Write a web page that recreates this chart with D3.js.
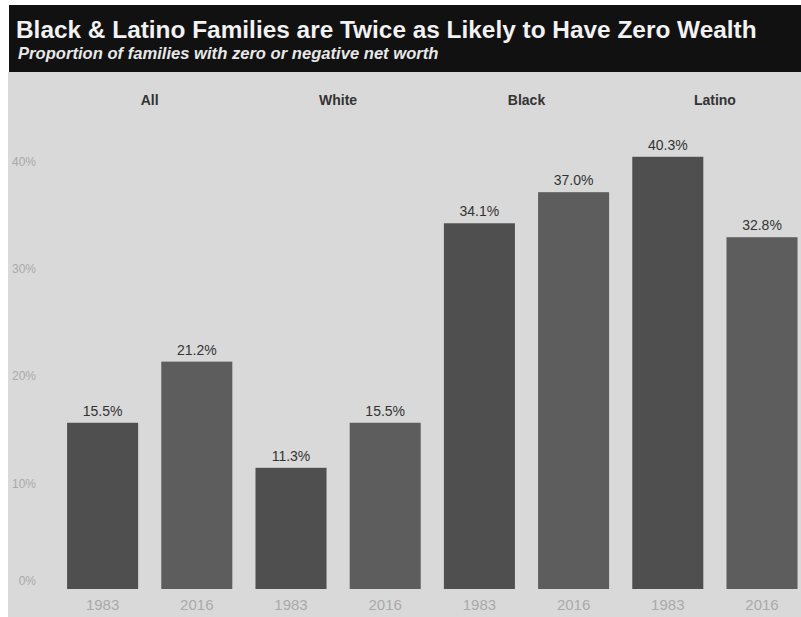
<!DOCTYPE html>
<html>
<head>
<meta charset="utf-8">
<script src="https://cdn.jsdelivr.net/npm/d3@7"></script>
<style>
  html, body { margin: 0; padding: 0; background: #ffffff; }
  svg { display: block; font-family: "Liberation Sans", Arial, sans-serif; }
</style>
</head>
<body>
<svg id="chart" width="801" height="617"></svg>
<script>
// Share of families with zero or negative net worth, by group and year
const groups = ["All", "White", "Black", "Latino"];
const years = ["1983", "2016"];
const values1983 = [15.5, 11.3, 34.1, 40.3];
const values2016 = [21.2, 15.5, 37.0, 32.8];
const yTicks = [0, 10, 20, 30, 40];

const titleText = "Black & Latino Families are Twice as Likely to Have Zero Wealth";
const subtitleText = "Proportion of families with zero or negative net worth";

const rows = [];
groups.forEach((g, i) => {
  rows.push({ group: g, year: years[0], value: values1983[i], key: g + "-" + years[0] });
  rows.push({ group: g, year: years[1], value: values2016[i], key: g + "-" + years[1] });
});

const svg = d3.select("#chart");
const W = 801, H = 617;

// chart pane
svg.append("rect").attr("x", 8).attr("y", 72).attr("width", W - 8).attr("height", H - 72)
  .attr("fill", "#d9d9d9");

// title banner
svg.append("rect").attr("x", 9).attr("y", 5).attr("width", W - 9).attr("height", 67)
  .attr("fill", "#111111");
svg.append("text").attr("x", 16).attr("y", 38)
  .attr("fill", "#f2f2f2").attr("font-size", 24.4).attr("font-weight", "bold")
  .text(titleText);
svg.append("text").attr("x", 18).attr("y", 59)
  .attr("fill", "#e8e8e8").attr("font-size", 16.6).attr("font-weight", "bold")
  .attr("font-style", "italic")
  .text(subtitleText);

const x = d3.scaleBand()
  .domain(rows.map(d => d.key))
  .range([55.5, 809.1])
  .paddingInner(0.246)
  .paddingOuter(0.123);

const y = d3.scaleLinear().domain([0, 40]).range([589, 160]);

const step = x.step();

// group headers centred over each pair of bars
svg.append("g").selectAll("text").data(groups).join("text")
  .attr("x", (g, i) => x(g + "-" + years[0]) - (step - x.bandwidth()) / 2 + step)
  .attr("y", 105)
  .attr("text-anchor", "middle")
  .attr("fill", "#333333").attr("font-size", 14).attr("font-weight", "bold")
  .text(g => g);

// y axis labels
const yAxis = d3.axisLeft(y).tickValues(yTicks).tickFormat(d => d + "%").tickSize(0).tickPadding(0);
const yg = svg.append("g").attr("transform", "translate(36,0)").call(yAxis);
yg.select(".domain").remove();
yg.selectAll("text")
  .attr("fill", "#a9a9a9").attr("font-size", 12)
  .attr("font-family", "'Liberation Sans', Arial, sans-serif")
  .attr("dy", d => d === 0 ? "-0.4em" : "0.45em");

// bars
svg.append("g").selectAll("rect").data(rows).join("rect")
  .attr("x", d => x(d.key))
  .attr("y", d => y(d.value))
  .attr("width", x.bandwidth())
  .attr("height", d => y(0) - y(d.value))
  .attr("fill", d => d.year === years[0] ? "#4f4f4f" : "#5d5d5d");

// value labels
svg.append("g").selectAll("text").data(rows).join("text")
  .attr("x", d => x(d.key) + x.bandwidth() / 2)
  .attr("y", d => y(d.value) - 7)
  .attr("text-anchor", "middle")
  .attr("fill", "#333333").attr("font-size", 14)
  .text(d => d.value.toFixed(1) + "%");

// x axis year labels
const xAxis = d3.axisBottom(x).tickFormat(k => k.split("-")[1]).tickSize(0).tickPadding(0);
const xg = svg.append("g").attr("transform", "translate(0,599)").call(xAxis);
xg.select(".domain").remove();
xg.selectAll("text")
  .attr("fill", "#a9a9a9").attr("font-size", 15)
  .attr("font-family", "'Liberation Sans', Arial, sans-serif");
</script>
</body>
</html>
